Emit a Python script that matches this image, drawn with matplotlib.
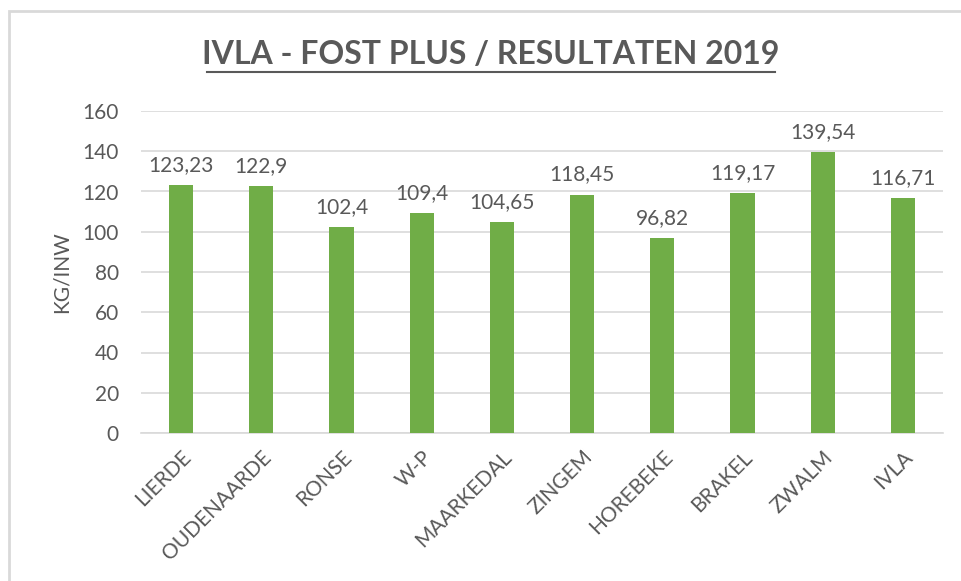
import matplotlib.pyplot as plt
from matplotlib.patches import Rectangle

gemeenten = ["LIERDE", "OUDENAARDE", "RONSE", "W-P", "MAARKEDAL", "ZINGEM",
             "HOREBEKE", "BRAKEL", "ZWALM", "IVLA"]
kg_inw = [123.23, 122.9, 102.4, 109.4, 104.65, 118.45, 96.82, 119.17, 139.54, 116.71]
labels = ["123,23", "122,9", "102,4", "109,4", "104,65", "118,45", "96,82",
          "119,17", "139,54", "116,71"]

grey = "#595959"
plt.rcParams['font.family'] = ['Lato', 'DejaVu Sans']

fig = plt.figure(figsize=(9.62, 5.81), dpi=100)
ax = fig.add_axes([141 / 962, 1 - 433 / 581, 802 / 962, 322 / 581])

# chart border (cut off at right / bottom)
fig.patches.append(Rectangle((9 / 962, -0.1), 1.2, 1 - 11 / 581 + 0.1,
                             transform=fig.transFigure, fill=False,
                             edgecolor="#D9D9D9", linewidth=2))

x = range(len(gemeenten))
ax.bar(x, kg_inw, width=0.3, color="#70AD47", zorder=3)
for i, v in enumerate(kg_inw):
    ax.text(i, v + 5, labels[i], ha="center", va="bottom", fontsize=15, color=grey)

ax.set_xlim(-0.5, len(gemeenten) - 0.5)
ax.set_ylim(0, 160)
ax.set_yticks(range(0, 161, 20))
ax.yaxis.grid(True, color="#D9D9D9", linewidth=1.2, zorder=0)
for s in ["top", "right", "left"]:
    ax.spines[s].set_visible(False)
ax.spines["bottom"].set_color("#D9D9D9")
ax.spines["bottom"].set_linewidth(1.2)
ax.tick_params(axis="both", length=0, labelsize=15, labelcolor=grey)
ax.tick_params(axis="y", pad=16)
ax.set_xticks(list(x))
ax.set_xticklabels(gemeenten, rotation=45, ha="right", rotation_mode="anchor")
ax.tick_params(axis="x", pad=10)
ax.set_ylabel("KG/INW", fontsize=15, color=grey, labelpad=8)

fig.text(491 / 962, 1 - 55 / 581, "IVLA - FOST PLUS / RESULTATEN 2019",
         ha="center", va="center", fontsize=23, fontweight="bold", color=grey)
fig.add_artist(plt.Line2D([207 / 962, 775 / 962], [1 - 72 / 581] * 2,
                          transform=fig.transFigure, color=grey, linewidth=1.5))

fig.savefig("out.png", dpi=100)
